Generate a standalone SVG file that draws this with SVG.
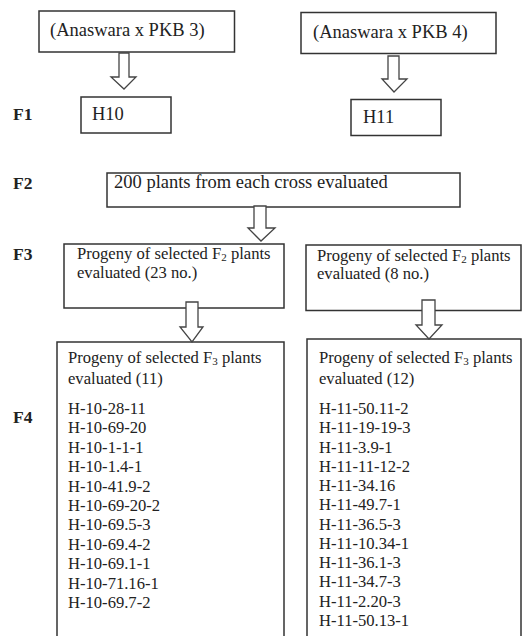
<svg xmlns="http://www.w3.org/2000/svg" width="522" height="636" viewBox="0 0 522 636">
<style>
.box{fill:#fff;stroke:#333;stroke-width:1.5}
.arr{fill:#fff;stroke:#444;stroke-width:1.3;stroke-linejoin:miter}
text{font-family:"Liberation Serif","Times New Roman",serif;fill:#222}
.big{font-size:18.5px}
.med{font-size:16.6px}
.lab{font-size:17.5px;font-weight:bold}
.sub{font-size:11px}
</style>
<rect width="522" height="636" fill="#fff"/>
<g id="labels">
<text class="lab" x="13" y="120">F1</text>
<text class="lab" x="13" y="189">F2</text>
<text class="lab" x="13" y="260">F3</text>
<text class="lab" x="13" y="423">F4</text>
</g>
<g id="cross1"><rect class="box" x="39" y="11" width="195.5" height="41"/><text class="big" x="50" y="36">(Anaswara x PKB 3)</text></g>
<g id="cross2"><rect class="box" x="301" y="12.5" width="195" height="41"/><text class="big" x="313" y="38">(Anaswara x PKB 4)</text></g>
<g id="h10"><rect class="box" x="81" y="97" width="90" height="36"/><text class="big" x="92" y="120">H10</text></g>
<g id="h11"><rect class="box" x="351" y="99.5" width="90" height="36"/><text class="big" x="363" y="123">H11</text></g>
<g id="f2"><rect class="box" x="107" y="173" width="353" height="34"/><text class="big" x="114" y="188">200 plants from each cross evaluated</text></g>
<g id="f3left"><rect class="box" x="64" y="244" width="220" height="64"/>
<text class="med" x="77" y="259">Progeny of selected F<tspan class="sub" dy="2">2</tspan><tspan dy="-2"> plants</tspan></text>
<text class="med" x="77" y="278">evaluated (23 no.)</text></g>
<g id="f3right"><rect class="box" x="306" y="245" width="215" height="65.5"/>
<text class="med" x="317" y="261">Progeny of selected F<tspan class="sub" dy="2">2</tspan><tspan dy="-2"> plants</tspan></text>
<text class="med" x="317" y="279">evaluated (8 no.)</text></g>
<g id="f4left"><path class="box" d="M57,640 V342 H284 V640"/>
<text class="med" x="68" y="363">Progeny of selected F<tspan class="sub" dy="2">3</tspan><tspan dy="-2"> plants</tspan></text>
<text class="med" x="68" y="384">evaluated (11)</text>
<text class="med" x="68" y="414">H-10-28-11</text>
<text class="med" x="68" y="433.4">H-10-69-20</text>
<text class="med" x="68" y="452.8">H-10-1-1-1</text>
<text class="med" x="68" y="472.2">H-10-1.4-1</text>
<text class="med" x="68" y="491.6">H-10-41.9-2</text>
<text class="med" x="68" y="511">H-10-69-20-2</text>
<text class="med" x="68" y="530.4">H-10-69.5-3</text>
<text class="med" x="68" y="549.8">H-10-69.4-2</text>
<text class="med" x="68" y="569.2">H-10-69.1-1</text>
<text class="med" x="68" y="588.6">H-10-71.16-1</text>
<text class="med" x="68" y="608">H-10-69.7-2</text></g>
<g id="f4right"><path class="box" d="M307,640 V339 H521 V640"/>
<text class="med" x="319" y="363">Progeny of selected F<tspan class="sub" dy="2">3</tspan><tspan dy="-2"> plants</tspan></text>
<text class="med" x="319" y="384">evaluated (12)</text>
<text class="med" x="319" y="414">H-11-50.11-2</text>
<text class="med" x="319" y="433.3">H-11-19-19-3</text>
<text class="med" x="319" y="452.5">H-11-3.9-1</text>
<text class="med" x="319" y="471.8">H-11-11-12-2</text>
<text class="med" x="319" y="491">H-11-34.16</text>
<text class="med" x="319" y="510.3">H-11-49.7-1</text>
<text class="med" x="319" y="529.5">H-11-36.5-3</text>
<text class="med" x="319" y="548.8">H-11-10.34-1</text>
<text class="med" x="319" y="568">H-11-36.1-3</text>
<text class="med" x="319" y="587.3">H-11-34.7-3</text>
<text class="med" x="319" y="606.5">H-11-2.20-3</text>
<text class="med" x="319" y="625.8">H-11-50.13-1</text></g>
<g id="connectors">
<path class="arr" d="M119,53 H129 V77 H136 L124,89 L111,77 H119 Z"/>
<path class="arr" d="M388,56 H399 V79 H407 L394,92 L382,79 H388 Z"/>
<path class="arr" d="M254,206 H266 V228 H275 L261,241 L248,228 H254 Z"/>
<path class="arr" d="M186,302 H198 V327 H203 L192,342 L180,327 H186 Z"/>
<path class="arr" d="M422,300 H435 V325 H442 L429,339 L416,325 H422 Z"/>
</g>
</svg>
